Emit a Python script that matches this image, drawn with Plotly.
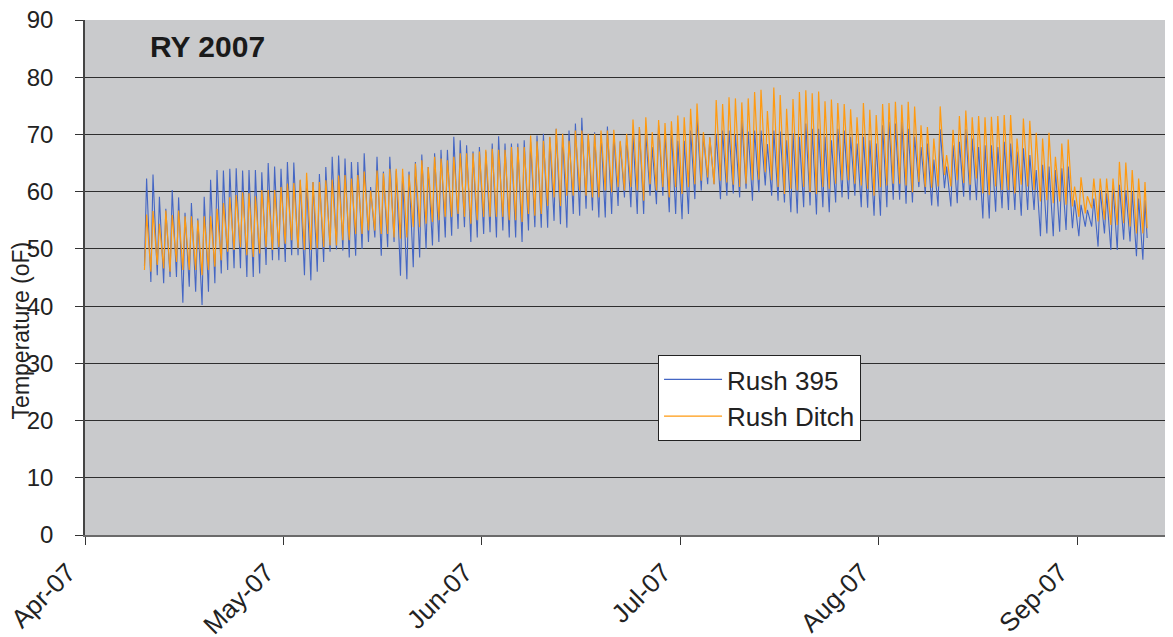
import datetime as dt
import plotly.graph_objects as go

# ---------------- data ----------------
FIRST_DAY = 9            # days after 1 Apr 2007 of the first record (10 Apr)
MIN_HOUR = 7             # typical time of daily minimum
MAX_HOUR = 15            # typical time of daily maximum
END_HOUR = 23

rush395_max = [
    62.3, 63.0, 59.1, 57.0, 60.3, 59.0, 56.3, 58.0, 55.3, 59.1,
    62.1, 63.8, 63.7, 64.0, 64.1, 63.7, 63.8, 63.8, 63.4, 65.0,
    64.4, 64.0, 65.2, 65.1, 62.0, 62.0, 61.7, 63.1, 64.3, 66.1,
    66.3, 65.8, 65.2, 65.2, 66.7, 60.8, 66.1, 63.5, 66.1, 63.7,
    62.6, 63.5, 65.2, 66.5, 64.3, 66.7, 67.3, 67.3, 69.6, 69.0,
    68.1, 67.0, 67.8, 67.0, 68.4, 69.7, 68.4, 68.4, 68.4, 69.0,
    68.7, 69.8, 70.1, 69.5, 71.0, 70.1, 70.7, 71.9, 72.9, 70.1,
    70.4, 70.2, 71.4, 70.1, 68.7, 69.8, 69.8, 71.3, 70.1, 67.8,
    71.6, 70.1, 70.7, 68.9, 68.9, 70.7, 73.0, 70.1, 69.5, 70.1,
    70.7, 70.7, 70.0, 72.5, 70.5, 70.7, 70.7, 68.3, 70.7, 70.5,
    69.0, 70.2, 69.6, 71.9, 71.0, 71.0, 69.6, 69.0, 71.0, 70.7,
    69.6, 68.4, 69.6, 69.0, 68.4, 71.6, 72.2, 71.9, 72.2, 71.0,
    69.6, 67.8, 68.4, 65.6, 70.9, 64.4, 68.1, 68.7, 70.9, 69.3,
    67.8, 68.1, 68.1, 67.8, 68.7, 68.4, 67.0, 67.6, 66.4, 63.8,
    64.7, 64.4, 63.8, 64.1, 64.4, 58.5, 57.7, 56.8, 58.8, 60.3,
    59.7, 60.9, 61.2, 60.3, 60.0, 58.8, 58.5,
]
rush395_min = [
    47.0, 44.2, 45.4, 44.0, 45.1, 45.1, 40.6, 43.4, 42.5, 40.2,
    42.5, 44.0, 45.7, 46.3, 46.6, 46.6, 45.1, 45.1, 45.7, 47.2,
    48.0, 48.0, 47.7, 48.9, 48.9, 45.4, 44.5, 46.0, 47.7, 49.5,
    49.9, 49.7, 48.5, 48.8, 50.0, 51.2, 52.0, 48.8, 50.3, 51.2,
    45.3, 44.7, 46.8, 48.5, 50.0, 50.6, 51.2, 52.0, 52.3, 53.5,
    53.8, 51.2, 52.0, 52.6, 52.9, 52.0, 53.2, 52.0, 52.0, 51.2,
    53.2, 53.8, 53.7, 53.7, 54.9, 54.3, 53.7, 56.1, 55.8, 57.0,
    56.7, 55.5, 55.5, 56.1, 57.5, 59.0, 57.3, 56.1, 56.1, 59.3,
    57.8, 59.3, 56.4, 56.1, 55.2, 56.1, 58.7, 60.2, 61.3, 61.3,
    58.7, 59.3, 59.7, 59.0, 60.5, 58.4, 59.9, 61.1, 59.3, 58.4,
    58.1, 56.4, 56.2, 57.3, 57.6, 56.0, 57.3, 56.4, 58.1, 59.0,
    58.7, 59.3, 57.3, 57.2, 55.8, 55.8, 57.3, 58.6, 58.6, 57.9,
    58.1, 60.8, 59.6, 57.6, 57.4, 60.6, 57.4, 58.0, 59.1, 58.5,
    58.5, 55.3, 55.3, 56.5, 57.1, 56.8, 56.8, 55.8, 56.8, 56.8,
    52.2, 52.7, 52.2, 53.0, 53.3, 53.6, 52.2, 53.9, 53.9, 50.4,
    52.7, 49.8, 49.8, 51.6, 51.3, 48.7, 48.1,
]
rush395_end = 51.9

ditch_max = [
    56.0, 56.6, 54.4, 56.7, 55.9, 56.7, 55.7, 55.7, 55.0, 55.7,
    55.7, 57.0, 58.0, 59.0, 59.4, 59.9, 59.7, 59.2, 60.3, 60.3,
    60.3, 60.8, 61.4, 61.5, 62.1, 63.3, 61.7, 61.7, 62.0, 62.1,
    62.8, 62.9, 62.3, 62.9, 63.5, 60.2, 63.7, 63.2, 64.0, 64.0,
    64.0, 63.0, 64.9, 65.5, 64.3, 66.1, 65.8, 65.5, 66.1, 66.7,
    66.7, 66.7, 67.0, 67.3, 67.5, 67.3, 67.3, 67.8, 67.8, 67.8,
    69.8, 68.8, 68.9, 69.6, 71.0, 70.1, 68.9, 70.7, 70.7, 70.1,
    70.1, 70.7, 70.7, 70.8, 68.9, 70.1, 72.6, 71.3, 73.0, 70.4,
    72.5, 72.0, 72.3, 73.3, 73.0, 74.5, 75.4, 70.4, 69.5, 76.0,
    75.3, 76.5, 76.3, 75.6, 76.3, 77.4, 77.8, 74.1, 78.2, 76.9,
    74.5, 76.2, 77.4, 77.7, 77.2, 77.5, 75.8, 76.1, 75.5, 75.3,
    74.4, 73.0, 75.5, 74.3, 73.4, 75.3, 75.5, 75.7, 75.2, 75.7,
    74.9, 71.6, 71.3, 69.3, 74.9, 66.4, 70.8, 73.2, 74.2, 73.0,
    73.2, 73.0, 73.1, 73.2, 73.4, 73.4, 69.3, 72.8, 72.4, 70.3,
    69.3, 70.3, 66.1, 68.4, 69.1, 60.9, 62.5, 59.2, 62.3, 62.3,
    62.3, 62.3, 65.2, 65.1, 63.8, 62.3, 61.7,
]
ditch_min = [
    46.3, 46.0, 47.2, 46.6, 46.0, 47.7, 46.3, 46.3, 46.3, 45.4,
    46.3, 46.9, 48.0, 49.5, 49.8, 50.3, 48.9, 48.6, 49.2, 50.3,
    49.8, 50.3, 50.9, 51.5, 50.1, 49.8, 49.8, 50.1, 50.3, 50.6,
    50.6, 51.5, 51.5, 52.6, 52.6, 53.2, 53.2, 52.6, 52.6, 52.0,
    51.8, 52.0, 53.8, 53.8, 54.4, 54.7, 55.0, 55.6, 55.6, 56.1,
    55.6, 54.4, 55.0, 55.6, 55.6, 55.6, 55.6, 55.0, 55.0, 54.7,
    56.1, 55.8, 56.1, 57.5, 59.0, 57.5, 59.3, 59.3, 60.2, 59.3,
    59.0, 59.0, 60.2, 59.9, 60.8, 60.2, 60.8, 60.2, 58.4, 61.3,
    60.2, 60.8, 59.0, 60.8, 59.6, 60.8, 61.3, 61.9, 62.5, 61.3,
    61.9, 61.6, 61.2, 60.8, 61.4, 62.0, 62.1, 63.4, 62.0, 60.8,
    59.6, 60.5, 60.2, 60.8, 59.9, 59.6, 60.8, 60.5, 61.4, 62.0,
    62.0, 61.4, 61.1, 60.5, 59.3, 60.8, 61.1, 61.4, 61.4, 61.1,
    59.9, 61.7, 60.8, 60.7, 60.9, 62.9, 60.9, 62.0, 61.5, 61.2,
    62.3, 59.7, 59.4, 60.9, 60.3, 60.3, 59.7, 61.2, 60.9, 60.3,
    58.3, 58.5, 58.0, 58.3, 57.7, 57.4, 55.6, 56.2, 57.1, 54.8,
    55.1, 54.2, 54.2, 54.5, 53.9, 52.7, 52.7,
]
ditch_end = 53.6

series_names = ["Rush 395", "Rush Ditch"]
month_labels_start = ["2007-04-01", "2007-05-02", "2007-06-02",
                      "2007-07-03", "2007-08-03", "2007-09-03"]

# ---------------- build series ----------------
BASE = dt.datetime(2007, 4, 1)


def build(mins, maxs, end_val):
    xs, ys = [], []
    n = min(len(mins), len(maxs))
    for i in range(n):
        day = BASE + dt.timedelta(days=FIRST_DAY + i)
        xs.append(day + dt.timedelta(hours=MIN_HOUR))
        ys.append(mins[i])
        xs.append(day + dt.timedelta(hours=MAX_HOUR))
        ys.append(maxs[i])
    last = BASE + dt.timedelta(days=FIRST_DAY + n - 1)
    xs.append(last + dt.timedelta(hours=END_HOUR))
    ys.append(end_val)
    return xs, ys


x1, y1 = build(rush395_min, rush395_max, rush395_end)
x2, y2 = build(ditch_min, ditch_max, ditch_end)

FONT = "Liberation Sans, Arial, sans-serif"

fig = go.Figure()
fig.add_trace(go.Scatter(x=x1, y=y1, mode="lines", name=series_names[0],
                         line=dict(color="#4466C4", width=1.1)))
fig.add_trace(go.Scatter(x=x2, y=y2, mode="lines", name=series_names[1],
                         line=dict(color="#FF9A10", width=1.2)))

# the page body has an 8 px margin, so the figure is 8 px smaller
fig.update_layout(
    width=1165, height=629,
    margin=dict(l=77, r=0, t=12, b=102, autoexpand=False),
    paper_bgcolor="white",
    plot_bgcolor="#C9CACC",
    font=dict(family=FONT, size=23, color="#222222"),
    showlegend=True,
    legend=dict(x=0.5267, y=0.3495, xanchor="left", yanchor="top",
                bgcolor="white", bordercolor="#222222", borderwidth=1,
                font=dict(size=26, color="#222222"), itemwidth=58,
                tracegroupgap=0),
    xaxis=dict(
        type="date",
        range=["2007-04-01", "2007-09-18"],
        tickvals=month_labels_start,
        tickformat="%b-%y",
        tickangle=-45,
        ticks="outside", ticklen=8, tickcolor="#333333",
        ticklabelshift=-17, ticklabelstandoff=2,
        ticklabeloverflow="allow",
        showgrid=False, zeroline=False, automargin=False,
        showline=True, linecolor="#6A6A6A", linewidth=2,
        tickfont=dict(size=26, color="#222222"),
    ),
    yaxis=dict(
        range=[0, 90], dtick=10,
        ticks="outside", ticklen=8, tickcolor="#333333",
        ticklabelstandoff=17,
        ticklabeloverflow="allow",
        showgrid=True, gridcolor="#2E2E2E", gridwidth=1,
        zeroline=False, automargin=False,
        showline=True, linecolor="#444444", linewidth=1.5,
        tickfont=dict(size=24, color="#222222"),
    ),
    annotations=[
        dict(text="<b>RY 2007</b>", xref="paper", yref="paper",
             x=0.113, y=0.948, xanchor="center", yanchor="middle",
             showarrow=False, font=dict(size=30, color="#1A1A1A")),
        dict(text="Temperature (oF)", xref="paper", yref="paper",
             x=-0.0585, y=0.398, xanchor="center", yanchor="middle",
             textangle=-90, showarrow=False,
             font=dict(size=23, color="#222222")),
    ],
)

fig.write_html("out.html")
